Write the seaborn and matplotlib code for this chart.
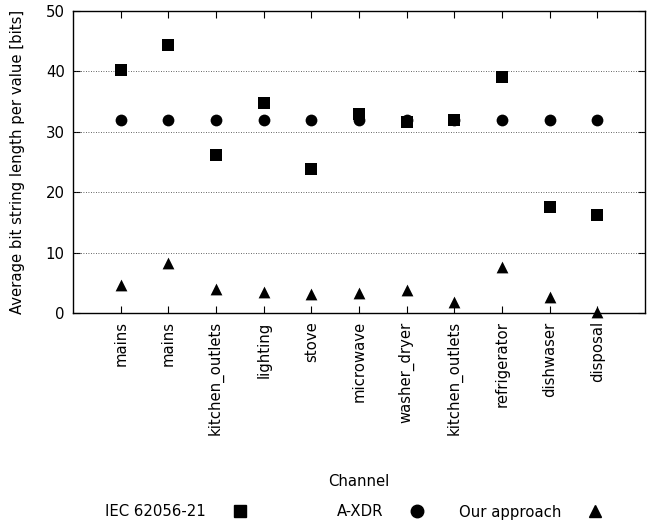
import matplotlib
matplotlib.use("Agg")
import matplotlib.pyplot as plt
import seaborn as sns
import pandas as pd
import numpy as np
from matplotlib.lines import Line2D

channels = ["mains", "mains", "kitchen_outlets", "lighting", "stove", "microwave",
            "washer_dryer", "kitchen_outlets", "refrigerator", "dishwaser", "disposal"]
iec = [40.3, 44.3, 26.2, 34.7, 23.9, 32.9, 31.7, 32.0, 39.1, 17.5, 16.2]
axdr = [32, 32, 32, 32, 32, 32, 32, 32, 32, 32, 32]
ours = [4.6, 8.3, 4.0, 3.4, 3.2, 3.3, 3.8, 1.9, 7.6, 2.6, 0.2]
series_names = ["IEC 62056-21", "A-XDR", "Our approach"]
y_ticks = [0, 10, 20, 30, 40, 50]

pos = np.arange(1, len(channels) + 1)
df = pd.concat([
    pd.DataFrame({"pos": pos, "value": vals, "Series": name})
    for name, vals in zip(series_names, [iec, axdr, ours])
])

sns.set_style("ticks")
FS = 10.7
plt.rcParams["font.family"] = ["DejaVu Sans"]
plt.rcParams["font.size"] = FS
for k in ["text.color", "axes.labelcolor", "xtick.color", "ytick.color", "axes.edgecolor"]:
    plt.rcParams[k] = "black"

fig = plt.figure(figsize=(6.5, 5.25), dpi=100)
ax = fig.add_axes([73 / 650, 1 - 313 / 525, (645 - 73) / 650, (313 - 11) / 525])

markers = {"IEC 62056-21": "s", "A-XDR": "o", "Our approach": "^"}
sizes = {"IEC 62056-21": 84, "A-XDR": 72, "Our approach": 72}
for name in series_names:
    sub = df[df["Series"] == name]
    sns.scatterplot(data=sub, x="pos", y="value", marker=markers[name], s=sizes[name],
                    color="black", edgecolor="black", linewidth=0, ax=ax, legend=False,
                    zorder=3, clip_on=False)

ax.set_xlim(0, len(channels) + 1)
ax.set_ylim(0, 50)
ax.set_xticks(pos)
ax.set_xticklabels(channels, rotation=90, fontsize=FS)
ax.set_yticks(y_ticks)
ax.set_yticklabels([str(t) for t in y_ticks], fontsize=FS)
ax.tick_params(direction="in", length=5, width=0.8, top=True, right=True, color="black",
               labelcolor="black")
ax.tick_params(axis="x", pad=6)
ax.tick_params(axis="y", pad=6)
for sp in ax.spines.values():
    sp.set_visible(True)
    sp.set_linewidth(1.0)
    sp.set_color("black")
for t in y_ticks[1:-1]:
    ax.axhline(t, color="#333333", lw=0.6, ls=(0, (1, 2)), zorder=1)

ax.set_xlabel("Channel", fontsize=FS, color="black")
ax.xaxis.set_label_coords(0.5, -(482 - 313) / 302)
ax.xaxis.label.set_va("center")
ax.set_ylabel("Average bit string length per value [bits]", fontsize=FS, color="black")
ax.yaxis.set_label_coords(-(73 - 18) / 572, 0.5)
ax.yaxis.label.set_va("center")

marker_centers = [240, 417, 595]
for name, mc in zip(series_names, marker_centers):
    h = Line2D([], [], marker=markers[name], color="black", ls="none", markersize=9)
    fig.legend([h], [name], loc="center right", bbox_to_anchor=((mc + 7) / 650, 1 - 512 / 525),
               frameon=False, markerfirst=False, handlelength=1.0, handletextpad=1.75,
               borderpad=0, borderaxespad=0, fontsize=FS, labelcolor="black")

fig.savefig("out.png", dpi=100)
